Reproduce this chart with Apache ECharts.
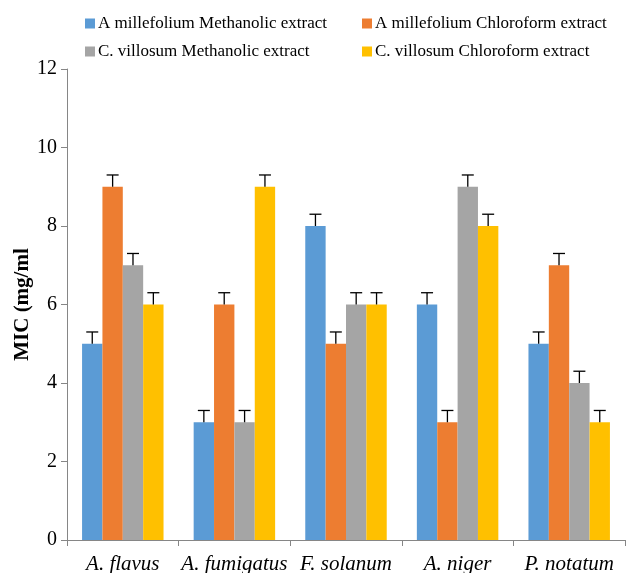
<!DOCTYPE html>
<html><head><meta charset="utf-8">
<script src="https://cdn.jsdelivr.net/npm/echarts@6/dist/echarts.min.js"></script>
<style>html,body{margin:0;padding:0;background:#fff}#c{width:629px;height:573px}</style>
</head><body><div id="c"></div>
<script>
const categories = ['A. flavus', 'A. fumigatus', 'F. solanum', 'A. niger', 'P. notatum'];
const seriesNames = ['A millefolium Methanolic extract', 'A millefolium Chloroform extract', 'C. villosum Methanolic extract', 'C. villosum Chloroform extract'];
const amMeth = [5, 3, 8, 6, 5];
const amChl = [9, 6, 5, 3, 7];
const cvMeth = [7, 3, 6, 9, 4];
const cvChl = [6, 9, 6, 8, 3];
const errAmMeth = [0.3, 0.3, 0.3, 0.3, 0.3];
const errAmChl = [0.3, 0.3, 0.3, 0.3, 0.3];
const errCvMeth = [0.3, 0.3, 0.3, 0.3, 0.3];
const errCvChl = [0.3, 0.3, 0.3, 0.3, 0.3];
const yTicks = [0, 2, 4, 6, 8, 10, 12];

const values = [amMeth, amChl, cvMeth, cvChl];
const errors = [errAmMeth, errAmChl, errCvMeth, errCvChl];
const colors = ['#5B9BD5', '#ED7D31', '#A5A5A5', '#FFC000'];
const catGap = 0.27;
const font = 'Liberation Serif';

const chart = echarts.init(document.getElementById('c'), null, {renderer: 'canvas'});
const series = [];
values.forEach((v, i) => {
  series.push({
    name: seriesNames[i], type: 'bar', data: v, barGap: '0%', barCategoryGap: (catGap * 100) + '%',
    itemStyle: {color: colors[i]}, emphasis: {disabled: true}
  });
});
values.forEach((v, i) => {
  series.push({
    type: 'custom', silent: true, z: 5,
    data: v.map((val, k) => [k, val, val + errors[i][k]]),
    renderItem: function (params, api) {
      const k = api.value(0);
      const band = api.size([1, 0])[0];
      const bw = band * (1 - catGap) / 4;
      const off = (i - 1.5) * bw;
      const base = api.coord([k, api.value(1)]);
      const top = api.coord([k, api.value(2)]);
      const x = base[0] + off;
      const half = 6;
      return {type: 'group', children: [
        {type: 'line', shape: {x1: x, y1: base[1], x2: x, y2: top[1]}, style: {stroke: '#000', lineWidth: 1.3}},
        {type: 'line', shape: {x1: x - half, y1: top[1], x2: x + half, y2: top[1]}, style: {stroke: '#000', lineWidth: 1.3}}
      ]};
    }
  });
});

const legendPos = [[85, 15], [362, 15], [85, 43], [362, 43]];
const legends = seriesNames.map((n, i) => ({
  data: [n], left: legendPos[i][0], top: legendPos[i][1], itemWidth: 10, itemHeight: 10, itemGap: 0,
  icon: 'rect', selectedMode: false, padding: 0,
  textStyle: {fontFamily: font, fontSize: 17, color: '#000', padding: [0, 0, 0, -2]}
}));

chart.setOption({
  animation: false,
  backgroundColor: '#fff',
  legend: legends,
  grid: {left: 67, right: 4, top: 69, bottom: 33, containLabel: false, outerBoundsMode: 'none'},
  xAxis: {
    type: 'category', data: categories,
    axisLine: {lineStyle: {color: '#868686', width: 1}},
    axisTick: {show: true, length: 6, lineStyle: {color: '#868686'}},
    axisLabel: {interval: 0, fontFamily: font, fontSize: 21, fontStyle: 'italic', color: '#000', margin: 14}
  },
  yAxis: {
    type: 'value', min: yTicks[0], max: yTicks[yTicks.length - 1], interval: 2,
    name: 'MIC (mg/ml', nameLocation: 'middle', nameGap: 34, nameRotate: 90, nameMoveOverlap: false,
    nameTextStyle: {fontFamily: font, fontSize: 21, fontWeight: 'bold', color: '#000'},
    axisLine: {show: true, lineStyle: {color: '#868686', width: 1}},
    axisTick: {show: true, inside: false, length: 6, lineStyle: {color: '#868686'}},
    splitLine: {show: false},
    axisLabel: {fontFamily: font, fontSize: 20, color: '#000', margin: 10}
  },
  series: series
});
</script></body></html>
